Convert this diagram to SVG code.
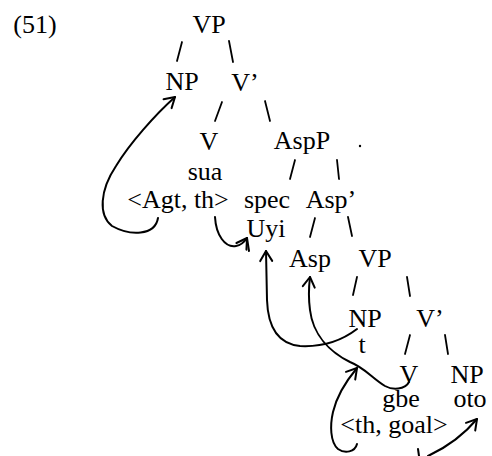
<svg xmlns="http://www.w3.org/2000/svg" width="492" height="456" viewBox="0 0 492 456">
<style>
text{font-family:"Liberation Serif","Times New Roman",serif;font-size:26px;fill:#000;text-anchor:middle}
.b{stroke:#000;stroke-width:1.8;fill:none;stroke-linecap:round}
.a{stroke:#000;stroke-width:2;fill:none;stroke-linecap:round;stroke-linejoin:round}
</style>
<defs>
<marker id="ah" viewBox="-12 -8 14 16" markerWidth="14" markerHeight="16" markerUnits="userSpaceOnUse" refX="0" refY="0" orient="auto" overflow="visible">
<path d="M-10,-6 L0,0 L-10,6" fill="none" stroke="#000" stroke-width="2" stroke-linecap="round" stroke-linejoin="round"/>
</marker>
</defs>
<rect width="492" height="456" fill="#fff"/>
<g id="label51"><text x="35" y="33">(51)</text></g>
<g id="VP1"><text x="209" y="33">VP</text></g>
<g id="NP1"><text x="182" y="90">NP</text></g>
<g id="Vbar1"><text x="245" y="91">V’</text></g>
<g id="V1"><text x="209" y="150">V</text></g>
<g id="AspP"><text x="302" y="149">AspP</text></g>
<g id="sua"><text x="205" y="180">sua</text></g>
<g id="agt"><text x="178" y="208">&lt;Agt, th&gt;</text></g>
<g id="spec"><text x="267" y="208">spec</text></g>
<g id="Aspbar"><text x="331" y="208">Asp’</text></g>
<g id="Uyi"><text x="266" y="237">Uyi</text></g>
<g id="Asp"><text x="310" y="267">Asp</text></g>
<g id="VP2"><text x="375" y="267">VP</text></g>
<g id="NP2"><text x="365" y="327">NP</text></g>
<g id="Vbar2"><text x="430" y="327">V’</text></g>
<g id="t"><text x="362" y="353">t</text></g>
<g id="V2"><text x="409" y="383">V</text></g>
<g id="NP3"><text x="467" y="383">NP</text></g>
<g id="gbe"><text x="401" y="407">gbe</text></g>
<g id="oto"><text x="470" y="407">oto</text></g>
<g id="thgoal"><text x="394" y="433">&lt;th, goal&gt;</text></g>
<g id="connectors">
<line class="b" x1="182" y1="42" x2="177" y2="61"/>
<line class="b" x1="229" y1="41" x2="233" y2="62"/>
<line class="b" x1="222" y1="102" x2="215" y2="121"/>
<line class="b" x1="265" y1="101" x2="270" y2="121"/>
<line class="b" x1="295" y1="160" x2="290" y2="179"/>
<line class="b" x1="337" y1="160" x2="339" y2="179"/>
<line class="b" x1="315" y1="218" x2="310" y2="237"/>
<line class="b" x1="348" y1="217" x2="352" y2="236"/>
<line class="b" x1="357" y1="277" x2="353" y2="295"/>
<line class="b" x1="407" y1="277" x2="410" y2="296"/>
<line class="b" x1="410" y1="335" x2="405" y2="354"/>
<line class="b" x1="445" y1="335" x2="448" y2="354"/>
<path class="a" marker-end="url(#ah)" d="M158,218 C155,236 130,236 112,226 C98,215 100,190 116,166 C130,143 155,115 175,97"/>
<path class="a" marker-end="url(#ah)" d="M215,217 C216,235 225,248 236,246 C242,245 245,241 247,238"/>
<line class="a" x1="247" y1="238" x2="249" y2="251"/>
<path class="a" marker-end="url(#ah)" d="M357,329 C340,342 320,347 300,346 C280,344 268,330 267,300 L266,251"/>
<path class="a" marker-end="url(#ah)" d="M409,382 C405,390 392,390 385,386 C372,378 365,368 350,362 C330,352 313,335 310,310 C308,295 309,285 310,277"/>
<path class="a" marker-end="url(#ah)" d="M357,444 C355,452 345,454 338,449 C330,442 330,425 333,412 C337,395 347,380 357,368"/>
<path class="a" marker-end="url(#ah)" d="M428,456 C445,448 462,437 477,419"/>
<line class="a" x1="418" y1="449" x2="419" y2="456"/>
</g>
<circle cx="360" cy="146" r="1.2" fill="#000"/>
</svg>
